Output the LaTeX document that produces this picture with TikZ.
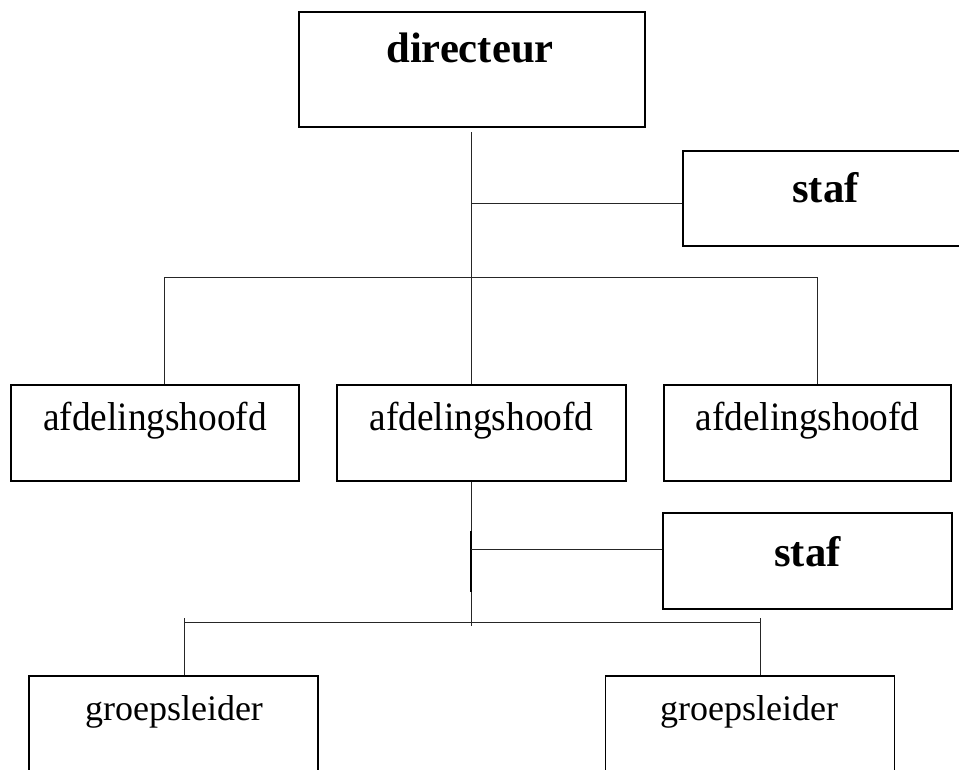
\documentclass[tikz,border=0pt]{standalone}
\usepackage{fontspec}
\setmainfont{Liberation Serif}
\usepackage{graphicx}
\tikzset{
  box/.style={draw=black, line width=0.9pt, inner sep=0pt},
  lbl/.style={anchor=base, inner sep=0pt, font=\fontsize{28}{30}\selectfont},
  glbl/.style={anchor=base, inner sep=0pt, font=\fontsize{27}{29}\selectfont},
  blbl/.style={anchor=base, inner sep=0pt, font=\fontsize{32}{34}\selectfont\bfseries},
  conn/.style={line width=0.75pt, draw=black!85},
  connthick/.style={line width=1.3pt, draw=black}
}
\newcommand{\tallt}[1]{\scalebox{1}[1.08]{#1}}
\begin{document}
\begin{tikzpicture}[x=0.75pt, y=-0.75pt]
\useasboundingbox (0,0) rectangle (959,769);
\clip (0,0) rectangle (959,769);

% boxes
\node[box, minimum width=259.5pt, minimum height=86.25pt] (dir) at (472,69.5) {};
\node[blbl] (dirt) at (470,62) {directeur};

\node[box, minimum width=213.75pt, minimum height=71.25pt] (s1) at (825.5,198.5) {};
\node[blbl] (s1t) at (825.5,202) {staf};

\node[box, minimum width=216pt, minimum height=72pt] (a1) at (155,433) {};
\node[lbl] (a1t) at (155,430) {\tallt{afdelingshoofd}};
\node[box, minimum width=216.75pt, minimum height=72pt] (a2) at (481.5,433) {};
\node[lbl] (a2t) at (481.5,430) {\tallt{afdelingshoofd}};
\node[box, minimum width=215.25pt, minimum height=72pt] (a3) at (807.5,433) {};
\node[lbl] (a3t) at (807.5,430) {\tallt{afdelingshoofd}};

\node[box, minimum width=216.75pt, minimum height=72pt] (s2) at (807.5,561) {};
\node[blbl] (s2t) at (807.5,566) {staf};

\node[box, minimum width=216.75pt, minimum height=90pt] (g1) at (173.5,736) {};
\node[glbl] (g1t) at (174,720) {groepsleider};
\node[box, minimum width=216.75pt, minimum height=90pt] (g2) at (750,736) {};
\node[glbl] (g2t) at (749,720) {groepsleider};

% connectors, top level
\coordinate (c1) at (471,132);
\draw[conn] (c1) -- (c1 |- a2.north);
\coordinate (k1) at (471,203);
\draw[conn] (k1) -- (k1 -| s1.west);
\coordinate (b1L) at (164,277);
\coordinate (b1R) at (817,277);
\draw[conn] (b1L |- a1.north) -- (b1L) -- (b1R) -- (b1R |- a3.north);

% connectors, lower level
\coordinate (c2) at (471,626);
\draw[conn] (c2 |- a2.south) -- (c2);
\coordinate (t1) at (471,531);
\coordinate (t2) at (471,592);
\draw[connthick] (t1) -- (t2);
\coordinate (k2) at (471,549);
\draw[conn] (k2) -- (k2 -| s2.west);
\coordinate (b2L) at (184,622);
\coordinate (b2R) at (760,622);
\draw[conn] (b2L) -- (b2R);
\draw[conn] ([yshift=3pt]b2L) -- (b2L |- g1.north);
\draw[conn] ([yshift=3pt]b2R) -- (b2R |- g2.north);
\end{tikzpicture}
\end{document}
